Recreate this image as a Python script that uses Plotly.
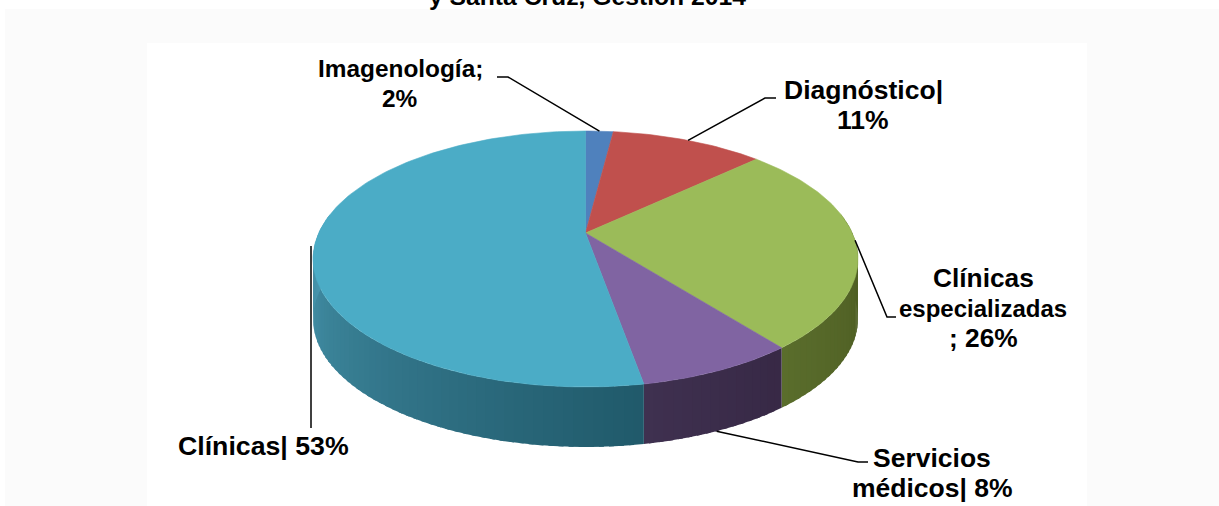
import numpy as np
import plotly.graph_objects as go

categories = ["Imagenología", "Diagnóstico", "Clínicas especializadas", "Servicios médicos", "Clínicas"]
values = [2, 11, 26.4, 7.8, 52.8]
top_colors = ["#4f81bd", "#c0504d", "#9bbb59", "#8064a2", "#4bacc6"]
side_start = ["#2f4d71", "#73302e", "#5a6d2c", "#3f3150", "#4a9ab2"]
side_end = ["#2f4d71", "#73302e", "#48561f", "#382946", "#215a6b"]
# text, x centre, y centre, font size
label_lines = [
    ("Imagenología;", 400, 68, 24.4), ("2%", 400, 98, 24.4),
    ("Diagnóstico|", 863, 90, 26.5), ("11%", 863, 120, 26.5),
    ("Clínicas", 983, 278, 26.3), ("especializadas", 983, 308, 24), ("; 26%", 983, 338, 26.3),
    ("Servicios", 932, 458, 26.5), ("médicos| 8%", 932, 488, 26.5),
    ("Clínicas| 53%", 263, 446, 26.7),
]
title_text = "y Santa Cruz, Gestión 2014"

# Projection layout (pixels on the page-sized axes)
X0, Y0, A, B, K, DEPTH = 585.5, 233, 266.8, 122.7, 0.203, 60


def project(theta, drop=0.0):
    u, v = np.sin(theta), np.cos(theta)
    w = 1 + K * v
    return X0 + A * u / w, Y0 - B * v / w + drop


def hex2rgb(h):
    return np.array([int(h[i:i + 2], 16) for i in (1, 3, 5)], dtype=float)


def mix(a, b, t):
    c = hex2rgb(a) * (1 - t) + hex2rgb(b) * t
    return "rgb(%d,%d,%d)" % tuple(c)


fig = go.Figure()

edges = np.cumsum([0] + values) / sum(values) * 2 * np.pi

# Side wall: thin overlapping strips following each slice's outer edge
for i in range(len(values)):
    a0, a1 = edges[i], edges[i + 1]
    lo, hi = max(a0, np.pi / 2 * 0.9), min(a1, 2 * np.pi - np.pi / 2 * 0.9)
    if hi <= lo:
        continue
    n = max(2, int((hi - lo) / 0.03))
    steps = np.linspace(lo, hi, n + 1)
    for j in range(n):
        end = steps[j + 1] + (0.015 if j < n - 1 else 0)
        th = np.linspace(steps[j], end, 4)
        x1, y1 = project(th)
        x2, y2 = project(th[::-1], DEPTH)
        t = j / max(1, n - 1)
        col = mix(side_end[i], side_start[i], t) if i == 4 else mix(side_start[i], side_end[i], 1 - t)
        fig.add_trace(go.Scatter(
            x=np.r_[x1, x2], y=np.r_[y1, y2], mode="lines", fill="toself",
            fillcolor=col, line=dict(width=0), hoverinfo="skip", showlegend=False))

# Top face
for i, name in enumerate(categories):
    th = np.linspace(edges[i], edges[i + 1], max(8, int(values[i] * 3)))
    x, y = project(th)
    fig.add_trace(go.Scatter(
        x=np.r_[X0, x, X0], y=np.r_[Y0, y, Y0], mode="lines", fill="toself",
        fillcolor=top_colors[i], line=dict(width=0.6, color=top_colors[i]),
        name=name, hoverinfo="name", showlegend=False))

# Leader lines: fixed elbows per label, anchored on the rim at the slice
LEADERS = [
    ([497, 508], [77, 77], 0.5, 0.0),
    ([776, 765], [98, 98], 0.5, 0.0),
    ([896, 887], [317, 317], 0.49, 0.0),
    ([868, 858], [462, 462], 0.52, DEPTH),
    ([311], [428], 0.9, 0.0),
]
for i, (lx, ly, frac, drop) in enumerate(LEADERS):
    ax, ay = project(edges[i] + frac * (edges[i + 1] - edges[i]), drop)
    if i == 4:
        ax, ay = 311, 246
    fig.add_trace(go.Scatter(x=lx + [ax], y=ly + [ay], mode="lines",
                             line=dict(color="black", width=1.5),
                             hoverinfo="skip", showlegend=False))

FONT = "Liberation Sans, Arial, sans-serif"
for txt, x, y, size in label_lines:
    fig.add_annotation(x=x, y=y, text="<b>%s</b>" % txt, showarrow=False,
                       font=dict(family=FONT, size=size, color="black"),
                       xanchor="center", yanchor="middle")
fig.add_annotation(xref="x", yref="paper", x=587, y=1 + 4 / 506, text="<b>%s</b>" % title_text, showarrow=False,
                   font=dict(family=FONT, size=24.7, color="black"), xanchor="center", yanchor="middle")

PANEL = "#fbfbfb"
fig.update_layout(
    width=1219, height=506, margin=dict(l=0, r=0, t=0, b=0),
    paper_bgcolor="white", plot_bgcolor="white", showlegend=False,
    xaxis=dict(range=[0, 1219], visible=False, fixedrange=True),
    yaxis=dict(range=[506, 0], visible=False, fixedrange=True),
    shapes=[
        dict(type="path", layer="below", line=dict(width=0), fillcolor=PANEL,
             path="M5,9 L1219,9 L1219,506 L1087,506 L1087,43 L147,43 L147,506 L5,506 Z"),
    ],
)
fig.write_html("out.html", config=dict(displayModeBar=False),
               post_script="document.body.style.margin='0';")
